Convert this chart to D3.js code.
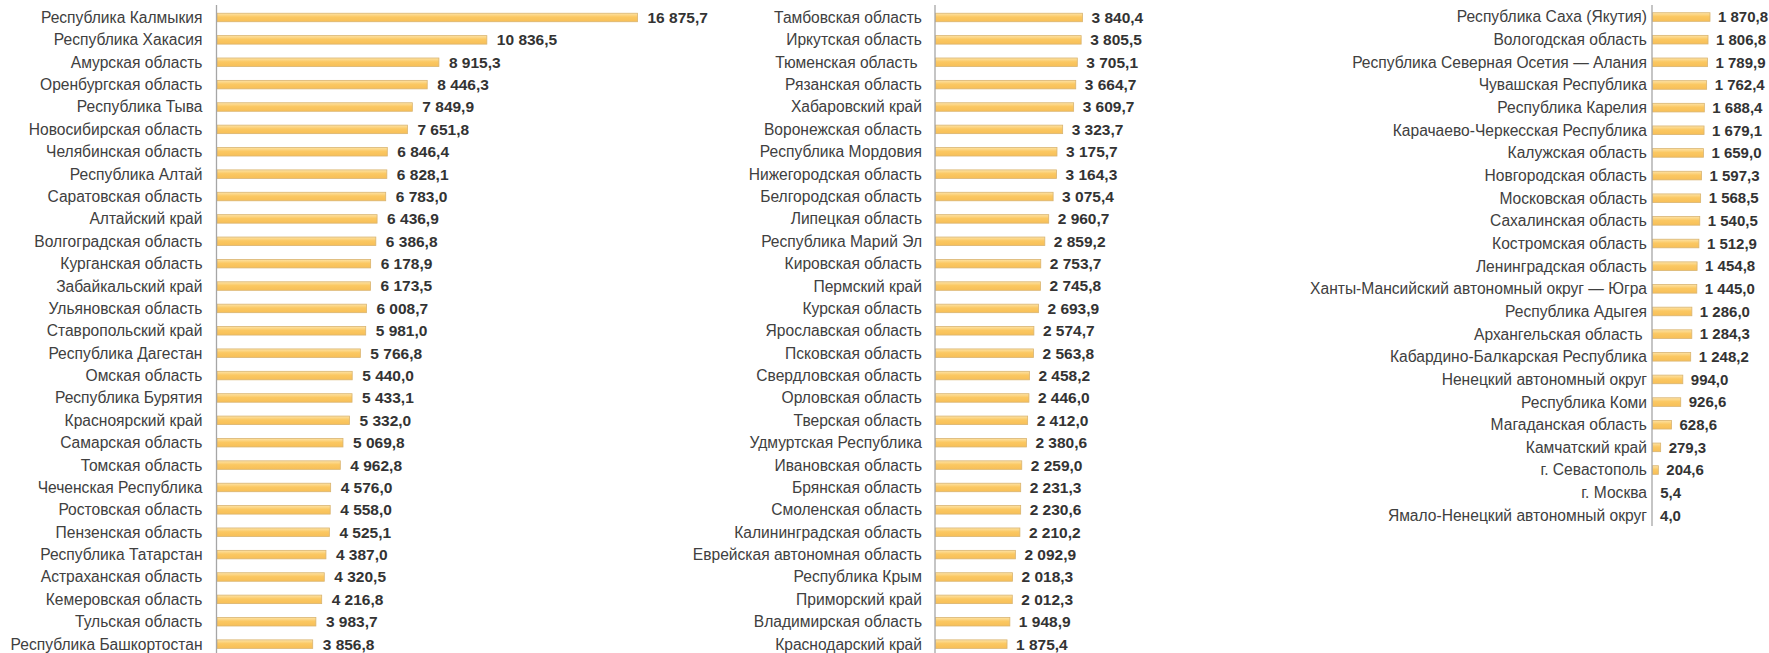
<!DOCTYPE html>
<html lang="ru">
<head>
<meta charset="UTF-8">
<title>Регионы</title>
<script src="https://d3js.org/d3.v7.min.js"></script>
<style>
  body { margin: 0; background: #fff; }
  text { font-family: "Liberation Sans", Arial, sans-serif; white-space: pre; }
</style>
</head>
<body>
<div id="chart"></div>
<script>
// column 1
const names1 = ['Республика Калмыкия', 'Республика Хакасия', 'Амурская область', 'Оренбургская область',
    'Республика Тыва', 'Новосибирская область', 'Челябинская область', 'Республика Алтай',
    'Саратовская область', 'Алтайский край', 'Волгоградская область', 'Курганская область',
    'Забайкальский край', 'Ульяновская область', 'Ставропольский край', 'Республика Дагестан',
    'Омская область', 'Республика Бурятия', 'Красноярский край', 'Самарская область',
    'Томская область', 'Чеченская Республика', 'Ростовская область', 'Пензенская область',
    'Республика Татарстан', 'Астраханская область', 'Кемеровская область', 'Тульская область',
    'Республика Башкортостан'];
const values1 = [16875.7, 10836.5, 8915.3, 8446.3, 7849.9, 7651.8, 6846.4, 6828.1, 6783.0, 6436.9,
    6386.8, 6178.9, 6173.5, 6008.7, 5981.0, 5766.8, 5440.0, 5433.1, 5332.0, 5069.8, 4962.8,
    4576.0, 4558.0, 4525.1, 4387.0, 4320.5, 4216.8, 3983.7, 3856.8];

// column 2
const names2 = ['Тамбовская область', 'Иркутская область', 'Тюменская область ', 'Рязанская область',
    'Хабаровский край', 'Воронежская область', 'Республика Мордовия', 'Нижегородская область',
    'Белгородская область', 'Липецкая область', 'Республика Марий Эл', 'Кировская область',
    'Пермский край', 'Курская область', 'Ярославская область', 'Псковская область',
    'Свердловская область', 'Орловская область', 'Тверская область', 'Удмуртская Республика',
    'Ивановская область', 'Брянская область', 'Смоленская область', 'Калининградская область',
    'Еврейская автономная область', 'Республика Крым', 'Приморский край', 'Владимирская область',
    'Краснодарский край'];
const values2 = [3840.4, 3805.5, 3705.1, 3664.7, 3609.7, 3323.7, 3175.7, 3164.3, 3075.4, 2960.7,
    2859.2, 2753.7, 2745.8, 2693.9, 2574.7, 2563.8, 2458.2, 2446.0, 2412.0, 2380.6, 2259.0,
    2231.3, 2230.6, 2210.2, 2092.9, 2018.3, 2012.3, 1948.9, 1875.4];

// column 3
const names3 = ['Республика Саха (Якутия)', 'Вологодская область', 'Республика Северная Осетия — Алания',
    'Чувашская Республика', 'Республика Карелия', 'Карачаево-Черкесская Республика',
    'Калужская область', 'Новгородская область', 'Московская область', 'Сахалинская область',
    'Костромская область', 'Ленинградская область', 'Ханты-Мансийский автономный округ — Югра',
    'Республика Адыгея', 'Архангельская область ', 'Кабардино-Балкарская Республика',
    'Ненецкий автономный округ', 'Республика Коми', 'Магаданская область', 'Камчатский край',
    'г. Севастополь', 'г. Москва', 'Ямало-Ненецкий автономный округ'];
const values3 = [1870.8, 1806.8, 1789.9, 1762.4, 1688.4, 1679.1, 1659.0, 1597.3, 1568.5, 1540.5,
    1512.9, 1454.8, 1445.0, 1286.0, 1284.3, 1248.2, 994.0, 926.6, 628.6, 279.3, 204.6, 5.4, 4.0];

const width = 1769, height = 653;

// each column is its own small chart with its own scale
const panels = [
    {names: names1, values: values1, axisX: 216.5, barMax: 421, rowTop: 6.3, step: 22.38, axisBottom: 653, labelGap: 14, valGap: 10, valSize: 15.5},
    {names: names2, values: values2, axisX: 935, barMax: 147.5, rowTop: 6.3, step: 22.38, axisBottom: 653, labelGap: 13, valGap: 9, valSize: 15.5},
    {names: names3, values: values3, axisX: 1652, barMax: 58, rowTop: 5.7, step: 22.65, axisBottom: 526, labelGap: 5, valGap: 8, valSize: 15}
];

const fmt = v => d3.format(',.1f')(v).replace(/,/g, '\u00a0').replace('.', ',');

const svg = d3.select('#chart')
    .append('svg')
    .attr('width', width)
    .attr('height', height);

const grad = svg.append('defs').append('linearGradient')
    .attr('id', 'barFill')
    .attr('x1', 0).attr('y1', 0).attr('x2', 0).attr('y2', 1);
grad.append('stop').attr('offset', '0%').attr('stop-color', '#fde3a6');
grad.append('stop').attr('offset', '45%').attr('stop-color', '#fbc862');
grad.append('stop').attr('offset', '100%').attr('stop-color', '#f7bf58');

panels.forEach(p => {
    const g = svg.append('g').attr('transform', `translate(${p.axisX},0)`);
    const data = p.names.map((n, i) => ({name: n, value: p.values[i]}));

    const x = d3.scaleLinear()
        .domain([0, d3.max(p.values)])
        .range([0, p.barMax]);

    const y = d3.scaleBand()
        .domain(p.names)
        .range([p.rowTop, p.rowTop + p.names.length * p.step])
        .paddingInner(0.62)
        .paddingOuter(0.31);

    // bars
    g.selectAll('rect')
        .data(data)
        .join('rect')
        .attr('x', 0.5)
        .attr('y', d => y(d.name))
        .attr('width', d => Math.max(0, x(d.value) - 0.5))
        .attr('height', y.bandwidth())
        .attr('fill', 'url(#barFill)')
        .attr('stroke', '#d9b470')
        .attr('stroke-width', 0.8);

    // vertical axis line
    g.append('line')
        .attr('x1', 0).attr('x2', 0)
        .attr('y1', 5).attr('y2', p.axisBottom)
        .attr('stroke', '#a6a6a6')
        .attr('stroke-width', 1.3);

    // category labels
    g.selectAll('text.cat')
        .data(data)
        .join('text')
        .attr('class', 'cat')
        .attr('x', -p.labelGap)
        .attr('y', d => y(d.name) + y.bandwidth() / 2)
        .attr('dy', '0.35em')
        .attr('text-anchor', 'end')
        .attr('font-size', 15.6)
        .attr('fill', '#404040')
        .text(d => d.name);

    // value labels
    g.selectAll('text.val')
        .data(data)
        .join('text')
        .attr('class', 'val')
        .attr('x', d => x(d.value) + p.valGap)
        .attr('y', d => y(d.name) + y.bandwidth() / 2)
        .attr('dy', '0.35em')
        .attr('font-size', p.valSize)
        .attr('font-weight', 'bold')
        .attr('fill', '#333333')
        .text(d => fmt(d.value));
});
</script>
</body>
</html>
